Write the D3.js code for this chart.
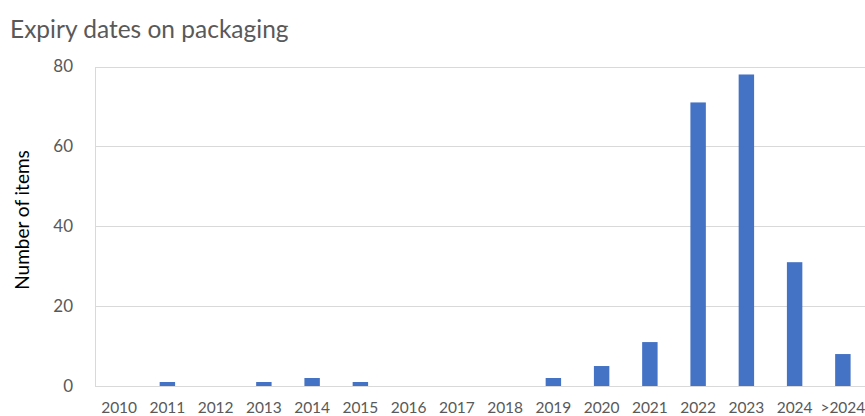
<!DOCTYPE html>
<html>
<head>
<meta charset="utf-8">
<script src="https://cdn.jsdelivr.net/npm/d3@7"></script>
<style>
  html, body { margin: 0; padding: 0; background: #fff; }
  svg { display: block; font-family: Lato, "Open Sans", sans-serif; }
</style>
</head>
<body>
<svg id="chart" width="865" height="416"></svg>
<script>
// Expiry years found on packaging, and how many items carried each
const years = ["2010", "2011", "2012", "2013", "2014", "2015", "2016", "2017",
               "2018", "2019", "2020", "2021", "2022", "2023", "2024", ">2024"];
const itemCounts = [0, 1, 0, 1, 2, 1, 0, 0, 0, 2, 5, 11, 71, 78, 31, 8];
const yTicks = [0, 20, 40, 60, 80];

const svg = d3.select("#chart");
const margin = { top: 66.5, right: 0, bottom: 30, left: 95 };
const width = 865, height = 416;
const plotBottom = 386;

const x = d3.scaleBand()
  .domain(years)
  .range([margin.left, margin.left + 48.25 * years.length])
  .paddingInner(0.68)
  .paddingOuter(0.34);

const y = d3.scaleLinear()
  .domain([0, 80])
  .range([plotBottom, margin.top]);

const textColor = "#595959";
const gridColor = "#d9d9d9";

// Title
svg.append("text")
  .attr("x", 10)
  .attr("y", 38)
  .attr("font-size", 24.5)
  .attr("fill", textColor)
  .text("Expiry dates on packaging");

// Horizontal gridlines and value labels
const yAxis = svg.append("g");
yAxis.selectAll("line.grid")
  .data(yTicks)
  .join("line")
  .attr("class", "grid")
  .attr("x1", margin.left)
  .attr("x2", width)
  .attr("y1", d => Math.round(y(d)) + 0.5)
  .attr("y2", d => Math.round(y(d)) + 0.5)
  .attr("stroke", gridColor)
  .attr("stroke-width", 1);

yAxis.selectAll("text")
  .data(yTicks)
  .join("text")
  .attr("x", 73)
  .attr("y", d => y(d))
  .attr("dy", "0.35em")
  .attr("text-anchor", "end")
  .attr("font-size", 17)
  .attr("fill", textColor)
  .text(d => d);

// Left axis line
svg.append("line")
  .attr("x1", margin.left + 0.5)
  .attr("x2", margin.left + 0.5)
  .attr("y1", Math.round(y(80)) + 0.5)
  .attr("y2", Math.round(y(0)) + 0.5)
  .attr("stroke", gridColor);

// Bars
svg.append("g")
  .selectAll("rect")
  .data(years.map((yr, i) => ({ year: yr, count: itemCounts[i] })))
  .join("rect")
  .attr("x", d => x(d.year))
  .attr("width", x.bandwidth())
  .attr("y", d => y(d.count))
  .attr("height", d => y(0) - y(d.count))
  .attr("fill", "#4472c4");

// Category labels
svg.append("g")
  .selectAll("text")
  .data(years)
  .join("text")
  .attr("x", d => x(d) + x.bandwidth() / 2)
  .attr("y", 413)
  .attr("text-anchor", "middle")
  .attr("font-size", 15.5)
  .attr("fill", textColor)
  .text(d => d);

// Y axis title
svg.append("text")
  .attr("transform", "translate(22,220) rotate(-90)")
  .attr("dy", "0.35em")
  .attr("text-anchor", "middle")
  .attr("font-size", 19)
  .attr("fill", "#000")
  .text("Number of items");
</script>
</body>
</html>
